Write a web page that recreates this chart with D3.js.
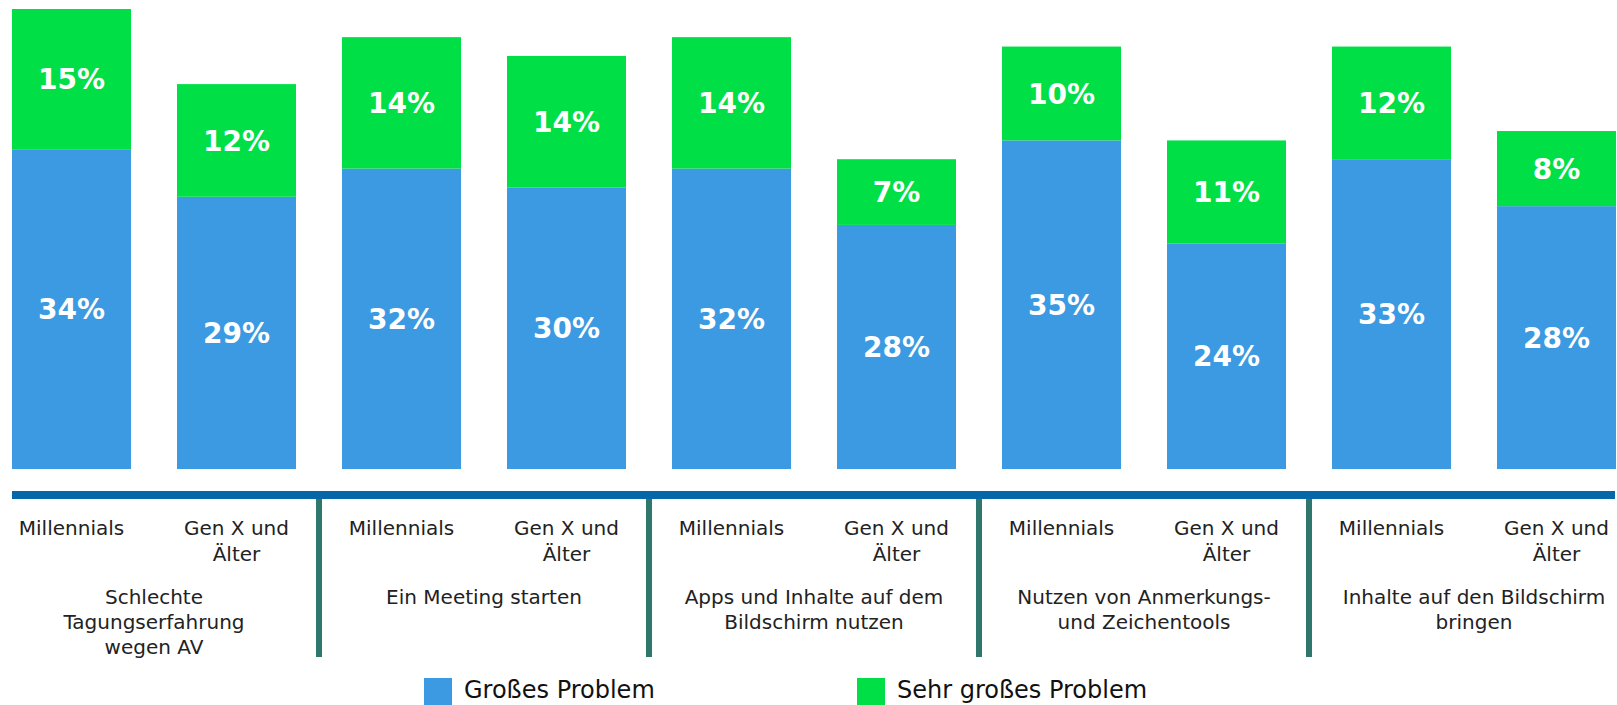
<!DOCTYPE html>
<html>
<head>
<meta charset="utf-8">
<script src="https://cdn.jsdelivr.net/npm/d3@7"></script>
<style>
  html, body { margin: 0; padding: 0; background: #fff; }
  svg { display: block; font-family: 'DejaVu Sans', sans-serif; }
</style>
</head>
<body>
<div id="chart"></div>
<script>
(function(d3) {
    'use strict';

    // Data
    var categories = [
        'Schlechte Tagungserfahrung wegen AV',
        'Ein Meeting starten',
        'Apps und Inhalte auf dem Bildschirm nutzen',
        'Nutzen von Anmerkungs- und Zeichentools',
        'Inhalte auf den Bildschirm bringen'
    ];
    var categoryLines = [
        ['Schlechte', 'Tagungserfahrung', 'wegen AV'],
        ['Ein Meeting starten'],
        ['Apps und Inhalte auf dem', 'Bildschirm nutzen'],
        ['Nutzen von Anmerkungs-', 'und Zeichentools'],
        ['Inhalte auf den Bildschirm', 'bringen']
    ];
    var generations = ['Millennials', 'Gen X und Älter'];
    var generationLines = [['Millennials'], ['Gen X und', 'Älter']];
    var series = ['Großes Problem', 'Sehr großes Problem'];

    // values per bar (category x generation), as drawn
    var grossValues = [34, 29, 32, 30, 32, 26, 35, 24, 33, 28];
    var sehrGrossValues = [15, 12, 14, 14, 14, 7, 10, 11, 12, 8];
    // labels as printed on the bars
    var grossLabels = ['34%', '29%', '32%', '30%', '32%', '28%', '35%', '24%', '33%', '28%'];
    var sehrGrossLabels = ['15%', '12%', '14%', '14%', '14%', '7%', '10%', '11%', '12%', '8%'];

    var colors = ['#3b9ae1', '#00df46'];

    // Chart vars
    var width = 1617;
    var height = 705;

    var svg = d3.select('#chart')
        .append('svg')
        .attr('width', width)
        .attr('height', height);

    // bars list
    var bars = [];
    categories.forEach(function(c, ci) {
        generations.forEach(function(g, gi) {
            var i = ci * 2 + gi;
            bars.push({
                id: i, category: ci, generation: gi,
                gross: grossValues[i], sehr: sehrGrossValues[i],
                grossLabel: grossLabels[i], sehrLabel: sehrGrossLabels[i]
            });
        });
    });

    var x = d3.scaleBand()
        .domain(bars.map(function(d) { return d.id; }))
        .range([12, 1616])
        .paddingInner(0.2788)
        .paddingOuter(0);

    var y = d3.scaleLinear()
        .domain([0, 49])
        .range([469, 9]);

    var stack = d3.stack().keys(['gross', 'sehr']);
    var stacked = stack(bars);
    var labelKeys = ['grossLabel', 'sehrLabel'];

    var layers = svg.selectAll('.layer')
        .data(stacked)
        .enter()
        .append('g')
        .attr('class', 'layer')
        .attr('fill', function(d, i) { return colors[i]; });

    layers.selectAll('rect')
        .data(function(d) { return d; })
        .enter()
        .append('rect')
        .attr('x', function(d) { return x(d.data.id); })
        .attr('y', function(d) { return y(d[1]); })
        .attr('width', x.bandwidth())
        .attr('height', function(d) { return y(d[0]) - y(d[1]); });

    // value labels
    layers.each(function(layer, li) {
        d3.select(this).selectAll('text')
            .data(layer)
            .enter()
            .append('text')
            .attr('x', function(d) { return x(d.data.id) + x.bandwidth() / 2; })
            .attr('y', function(d) { return (y(d[0]) + y(d[1])) / 2; })
            .attr('dy', '0.36em')
            .attr('text-anchor', 'middle')
            .attr('fill', '#fff')
            .style('font-size', '28px')
            .style('font-weight', 'bold')
            .text(function(d) { return d.data[labelKeys[li]]; });
    });

    // axis line
    svg.append('rect')
        .attr('x', 12)
        .attr('y', 491)
        .attr('width', 1603)
        .attr('height', 8)
        .attr('fill', '#0567a7');

    // group separators
    var seps = d3.range(1, categories.length);
    svg.selectAll('.sep')
        .data(seps)
        .enter()
        .append('rect')
        .attr('class', 'sep')
        .attr('x', function(g) {
            var left = x(g * 2 - 1) + x.bandwidth();
            var right = x(g * 2);
            return (left + right) / 2 - 3;
        })
        .attr('y', 499)
        .attr('width', 6)
        .attr('height', 158)
        .attr('fill', '#2f776c');

    // generation labels
    var genLabel = svg.selectAll('.gen')
        .data(bars)
        .enter()
        .append('text')
        .attr('class', 'gen')
        .attr('text-anchor', 'middle')
        .attr('fill', '#222')
        .style('font-size', '20px');

    genLabel.selectAll('tspan')
        .data(function(d) {
            return generationLines[d.generation].map(function(t, k) {
                return { text: t, k: k, cx: x(d.id) + x.bandwidth() / 2 };
            });
        })
        .enter()
        .append('tspan')
        .attr('x', function(d) { return d.cx; })
        .attr('y', function(d) { return 528 + d.k * 26; })
        .attr('dy', '0.36em')
        .text(function(d) { return d.text; });

    // category labels
    var catLabel = svg.selectAll('.cat')
        .data(categories)
        .enter()
        .append('text')
        .attr('class', 'cat')
        .attr('text-anchor', 'middle')
        .attr('fill', '#222')
        .style('font-size', '20px');

    catLabel.selectAll('tspan')
        .data(function(d, ci) {
            var cx = (x(ci * 2) + x(ci * 2 + 1) + x.bandwidth()) / 2;
            return categoryLines[ci].map(function(t, k) {
                return { text: t, k: k, cx: cx };
            });
        })
        .enter()
        .append('tspan')
        .attr('x', function(d) { return d.cx; })
        .attr('y', function(d) { return 597 + d.k * 25; })
        .attr('dy', '0.36em')
        .text(function(d) { return d.text; });

    // Legend
    var legendX = [424, 857];
    var legend = svg.selectAll('.legend')
        .data(series)
        .enter()
        .append('g')
        .attr('class', 'legend')
        .attr('transform', function(d, i) {
            return 'translate(' + legendX[i] + ',678)';
        });

    legend.append('rect')
        .attr('width', 28)
        .attr('height', 27)
        .attr('fill', function(d, i) { return colors[i]; });

    legend.append('text')
        .attr('x', 40)
        .attr('y', 11)
        .attr('dy', '0.36em')
        .attr('fill', '#111')
        .style('font-size', '24px')
        .text(function(d) { return d; });

})(window.d3);
</script>
</body>
</html>
